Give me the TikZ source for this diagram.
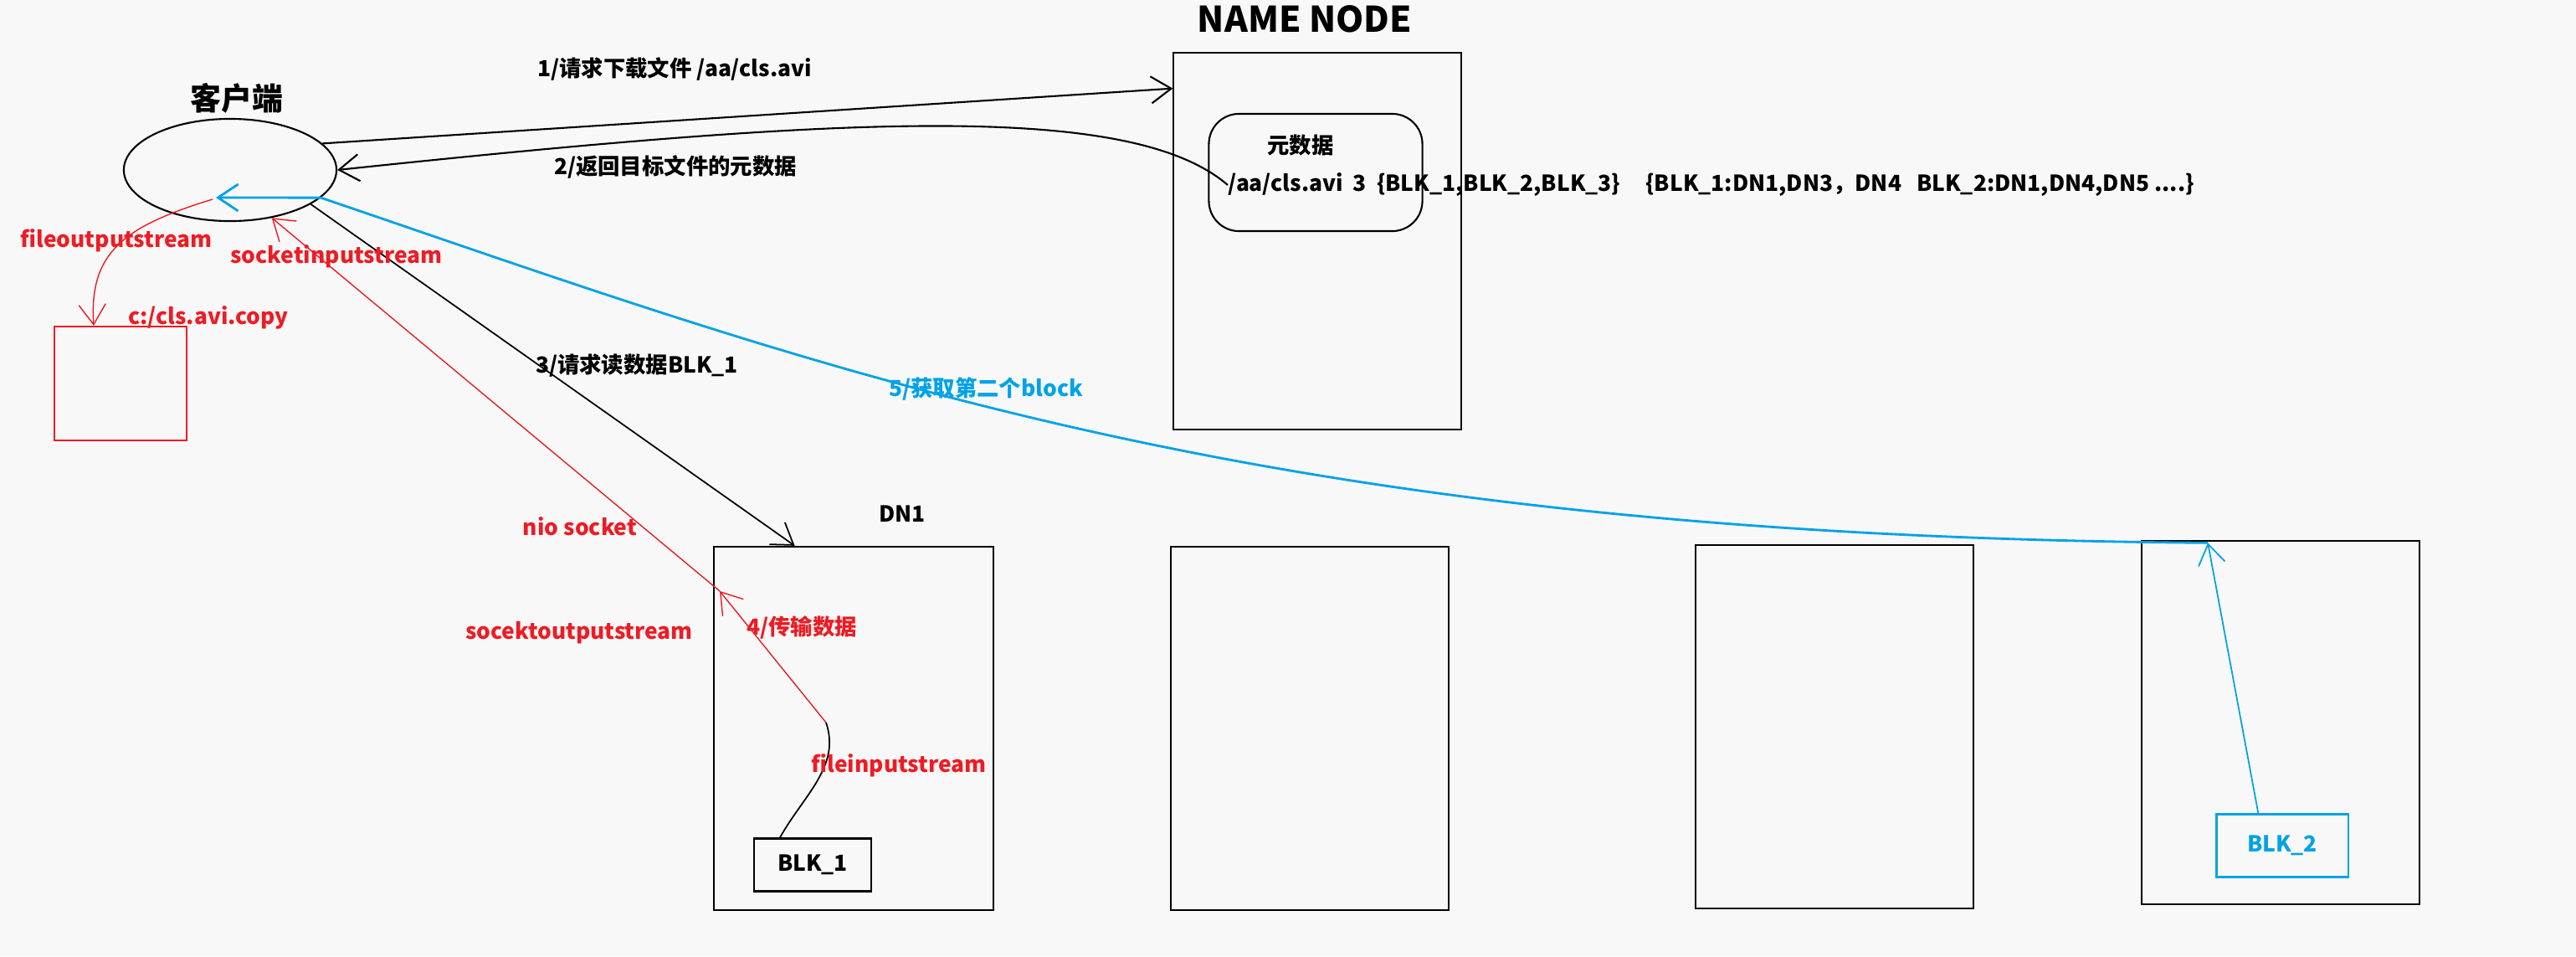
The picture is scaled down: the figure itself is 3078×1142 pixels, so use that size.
\documentclass[tikz,border=0pt]{standalone}
\usepackage{fontspec}
\setmainfont{Noto Sans CJK SC}
\usetikzlibrary{arrows.meta,calc,shapes.geometric}
\definecolor{paintred}{RGB}{237,28,36}
\definecolor{paintblue}{RGB}{0,162,232}
\definecolor{bgcol}{RGB}{248,248,248}
\begin{document}
\begin{tikzpicture}[x=0.01cm, y=-0.01cm,
                box/.style={draw, line width=0.6pt, inner sep=0pt},
                txt/.style={font=\bfseries\fontsize{7.5}{8}\selectfont, inner sep=0pt},
                big/.style={font=\bfseries\fontsize{12}{14}\selectfont, inner sep=0pt},
                tip/.style={-{Straight Barb[length=2.4mm,width=3.2mm]}}]
                \fill[bgcol] (0,0) rectangle (3078,1142);
                \useasboundingbox (0,0) rectangle (3078,1142);

                \node[box, ellipse, minimum width=2.54cm, minimum height=1.22cm] (client) at (275,203) {};
                \node[big, font=\bfseries\fontsize{10.5}{12}\selectfont] (clientlbl) at (283,117) {客户端};
                \node[box, draw=paintred, minimum width=1.58cm, minimum height=1.36cm] (copy) at (144,458) {};

                \node[box, minimum width=3.43cm, minimum height=4.49cm] (nn) at (1574,288) {};
                \node[big] (nnlbl) at (1559,23) {NAME NODE};
                \node[box, rounded corners=0.36cm, minimum width=2.55cm, minimum height=1.4cm] (metabox) at (1572,206) {};
                \node[txt] (metalbl) at (1554,174) {元数据};
                \node[txt, anchor=west] (meta) at (1467,221) {/aa/cls.avi\ \ 3\ \ \{BLK\_1,BLK\_2,BLK\_3\}\hspace{0.3cm}\{BLK\_1:DN1,DN3，DN4\ \ \ BLK\_2:DN1,DN4,DN5 ....\}};

                \node[box, minimum width=3.33cm, minimum height=4.34cm] (dn1) at (1020,870) {};
                \node[box, minimum width=3.32cm, minimum height=4.33cm] (dn2) at (1565,870) {};
                \node[box, minimum width=3.32cm, minimum height=4.34cm] (dn3) at (2192,868) {};
                \node[box, minimum width=3.32cm, minimum height=4.33cm] (dn4) at (2725,863) {};
                \node[txt] (dn1lbl) at (1078,614) {DN1};
                \node[box, txt, minimum width=1.4cm, minimum height=0.63cm] (blk1) at (971,1033) {BLK\_1};
                \node[box, txt, draw=paintblue, text=paintblue, minimum width=1.57cm, minimum height=0.75cm] (blk2) at (2727,1010) {BLK\_2};

                \coordinate (fis) at (987,863);
                \coordinate (sock) at (860,706);
                \coordinate (dn4in) at ($(dn4.north west)!0.24!(dn4.north east) + (0,3)$);

                \draw[tip, line width=0.6pt] (client.16) -- ($(nn.north west)!0.096!(nn.south west)$);
                \draw[tip, line width=0.6pt] (meta.west) .. controls (1350,120) and (1000,140) .. (client.east);
                \draw[tip, line width=0.5pt] (client.-23) -- ($(dn1.north west)!0.29!(dn1.north east)$);
                \draw[line width=0.5pt] (blk1.north west) ++(32,0) .. controls (960,950) and (1005,915) .. (fis);
                \draw[tip, paintred, line width=0.4pt] (fis) -- (sock);
                \draw[tip, paintred, line width=0.4pt] (sock) -- (client.-49);
                \draw[tip, paintred, line width=0.4pt] ($(client.center)+(-21,35)$) .. controls (150,270) and (106,300) .. ($(copy.north west)!0.3!(copy.north east)$);
                \draw[tip, paintblue, line width=0.8pt] (dn4in) .. controls (1500,640) and (1000,446) .. (client.-17) -- ($(client.center)+(-17,33)$);
                \draw[tip, paintblue, line width=0.5pt] ($(blk2.north west)!0.32!(blk2.north east)$) -- (dn4in);

                \node[txt] (l1) at (806,82) {1/请求下载文件 /aa/cls.avi};
                \node[txt] (l2) at (807,199) {2/返回目标文件的元数据};
                \node[txt] (l3) at (761,437) {3/请求读数据BLK\_1};
                \node[txt, text=paintblue] (l5) at (1178,464) {5/获取第二个block};
                \node[txt, text=paintred] (fos) at (139,287) {fileoutputstream};
                \node[txt, text=paintred] (sis) at (402,306) {socketinputstream};
                \node[txt, text=paintred] (copylbl) at (249,379) {c:/cls.avi.copy};
                \node[txt, text=paintred] (nio) at (693,629) {nio socket};
                \node[txt, text=paintred] (sos) at (692,756) {socektoutputstream};
                \node[txt, text=paintred] (l4) at (958,750) {4/传输数据};
                \node[txt, text=paintred] (fislbl) at (1074,914) {fileinputstream};
\end{tikzpicture}
\end{document}
